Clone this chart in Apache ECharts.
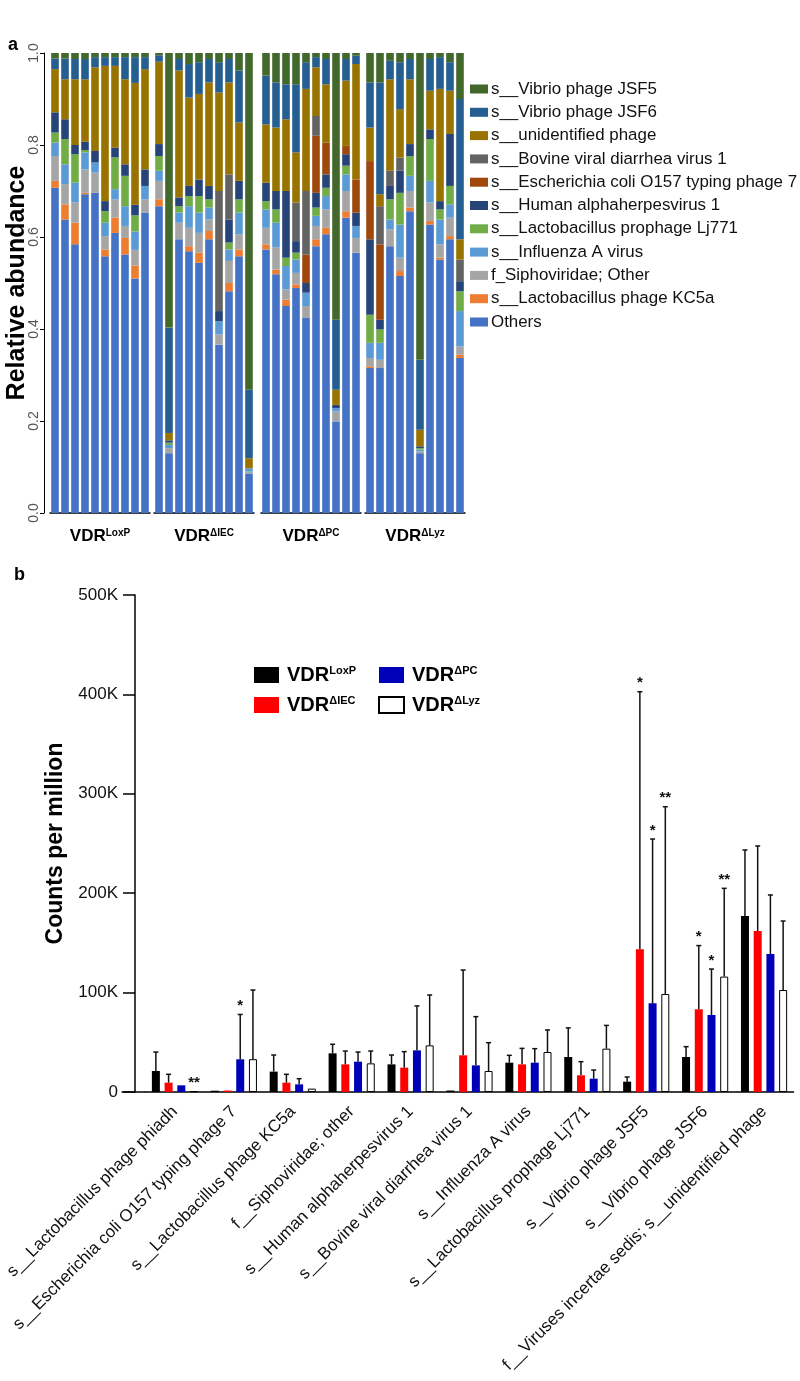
<!DOCTYPE html>
<html>
<head>
<meta charset="utf-8">
<script src="https://cdn.jsdelivr.net/npm/echarts@6/dist/echarts.min.js"></script>
<style>
html,body{margin:0;padding:0;background:#fff;}
#chart{width:800px;height:1381px;}
</style>
</head>
<body>
<div id="chart"></div>
<script>
// ---------------- Panel a data (relative abundance, %), 40 samples: 4 groups x 10 ----------------
const groups = ['LoxP', 'ΔIEC', 'ΔPC', 'ΔLyz'];
const taxaNames = [
  'Others', 's__Lactobacillus phage KC5a', 'f_Siphoviridae; Other', 's__Influenza A virus',
  's__Lactobacillus prophage Lj771', 's__Human alphaherpesvirus 1', 's__Escherichia coli O157 typing phage 7',
  's__Bovine viral diarrhea virus 1', 's__unidentified phage', 's__Vibrio phage JSF6', 's__Vibrio phage JSF5'
];
const others    = [70.7,63.8,58.4,69.3,69.6,55.8,60.9,56.2,51.0,65.3, 66.7,13.0,59.5,56.9,54.4,59.5,36.6,48.2,55.8,8.6, 57.3,51.9,45.0,48.9,42.4,58.0,60.6,19.9,64.2,56.6, 31.5,31.5,58.0,51.5,65.6,13.0,62.7,55.1,59.5,33.7];
const kc5a      = [1.5,3.3,4.7,0.3,0,1.5,3.3,3.6,2.8,0, 1.5,0,0,1.1,2.2,1.8,0,1.8,1.5,0, 1.1,1.0,1.4,0.8,0,1.5,1.4,0,1.4,0, 0.4,0,0,1.1,0.8,0,0.8,0.4,0.7,0.7];
const sipho     = [5.4,4.4,4.4,5.1,4.4,2.9,4.0,2.6,3.4,2.9, 4.0,1.1,3.6,4.0,4.3,2.5,2.2,4.8,3.3,0.4, 3.6,4.8,2.2,2.5,2.6,2.9,4.0,2.2,4.4,3.2, 1.8,1.8,3.7,2.9,3.6,0.4,4.0,2.9,4.0,1.8];
const influenza = [2.9,4.3,4.3,3.7,2.2,2.9,2.2,4.3,4.0,2.9, 2.2,0.7,2.2,4.7,4.4,2.6,2.9,2.5,4.7,0.7, 4.0,5.4,5.1,2.9,2.9,2.2,2.9,0.7,3.6,2.6, 3.3,3.7,2.1,7.2,3.3,0.4,4.7,5.4,2.9,7.7];
const lj771     = [2.2,5.5,6.2,0.5,0,2.5,6.9,6.6,3.5,0, 3.2,0.5,1.4,2.2,3.6,1.8,0,1.5,2.9,0, 1.8,2.9,1.8,1.5,0,1.8,1.8,0,1.9,0, 6.1,2.9,4.4,6.9,4.3,0.3,9.1,2.2,4.0,4.3];
const human     = [4.4,4.3,2.0,1.8,2.5,2.2,2.1,2.5,2.3,3.6, 2.6,0.5,1.9,2.2,3.6,2.9,2.2,5.0,4.0,0, 4.0,4.0,14.5,2.5,2.1,3.2,2.9,0.7,2.5,2.9, 16.4,2.1,2.9,4.8,2.6,0.4,2.1,1.8,11.3,2.2];
const ecoli     = [0,0,0,0,0,0,0,0,0,0, 0,0,0,0,0,0,0,0,0,0, 0,0,0,0,6.2,12.4,6.9,0,1.8,7.2, 17.0,16.4,0,0,0,0,0,0,0,0];
const bovine    = [0,0,0,0,0,0,0,0,0,0, 0,0,0,0,0,0,26.1,9.8,0,0, 0,0,0,8.4,13.8,4.3,0,0,0,0, 0,8.3,3.3,2.9,0,0,0,0,0,4.7];
const unidPhage = [9.4,8.7,14.3,13.6,18.2,29.4,17.8,18.5,26.5,21.8, 17.9,1.6,27.6,19.2,18.6,22.5,21.4,20.0,12.7,2.2, 12.7,13.8,15.6,10.9,22.2,10.6,12.7,3.3,14.2,25.1, 7.3,2.6,19.9,10.5,14.1,3.6,8.4,24.4,9.4,4.4];
const jsf6      = [2.3,4.5,4.4,4.4,2.2,1.9,1.9,4.8,5.6,2.6, 1.4,22.9,2.5,7.3,6.9,5.1,6.6,5.1,11.3,14.9, 10.6,9.8,7.6,14.8,5.8,2.2,5.5,15.2,4.7,1.8, 9.8,24.3,4.0,10.2,4.4,15.2,6.9,6.9,6.2,30.5];
const jsf5      = [1.2,1.2,1.3,1.3,0.9,0.9,0.9,0.9,0.9,0.9, 0.5,59.7,1.3,2.4,2.0,1.3,2.0,1.3,3.8,73.2, 4.9,6.4,6.8,6.8,2.0,0.9,1.3,58.0,1.3,0.6, 6.4,6.4,1.7,2.0,1.3,66.7,1.3,0.9,2.0,10.0];
const taxaValues = [others, kc5a, sipho, influenza, lj771, human, ecoli, bovine, unidPhage, jsf6, jsf5];

// ---------------- Panel b data (counts per million) ----------------
const phageCats = [
  's__Lactobacillus phage phiadh', 's__Escherichia coli O157 typing phage 7', 's__Lactobacillus phage KC5a',
  'f__Siphoviridae; other', 's__Human alphaherpesvirus 1', 's__Bovine viral diarrhea virus 1',
  's__Influenza A virus', 's__Lactobacillus prophage Lj771', 's__Vibrio phage JSF5',
  's__Vibrio phage JSF6', 'f__Viruses incertae sedis; s__unidentified phage'
];
const loxpMean = [21100, 1300, 20500, 38900, 27800, 1500, 29500, 35200, 10400, 35200, 177100];
const iecMean  = [9400, 1500, 9400, 27800, 24500, 36900, 27800, 16800, 143600, 83200, 162000];
const pcMean   = [6700, 32900, 7700, 30500, 41900, 26800, 29500, 13400, 89200, 77500, 138800];
const lyzMean  = [800, 33000, 3400, 28800, 46900, 21100, 40200, 43600, 98600, 116100, 102600];
const loxpSd = [19100, 0, 16700, 9100, 9400, 0, 7400, 29300, 4700, 10400, 66400];
const iecSd  = [8400, 0, 8400, 13400, 16100, 85800, 16100, 13700, 259100, 64100, 85500];
const pcSd   = [0, 45100, 5700, 9700, 44700, 49000, 14100, 8700, 165300, 46200, 59400];
const lyzSd  = [0, 69600, 0, 12400, 50700, 28500, 22200, 23400, 188400, 88800, 69400];
const loxpSig = ['','','','','','','','','','',''];
const iecSig  = ['','','','','','','','','*','*',''];
const pcSig   = ['','*','','','','','','','*','*',''];
const lyzSig  = ['**','','','','','','','','**','**',''];

// ---------------- styling ----------------
const FONT = 'Liberation Sans, Arial, Helvetica, sans-serif';
const taxaColors = ['#4472C4','#ED7D31','#A5A5A5','#5B9BD5','#70AD47','#264478','#9E480E','#636363','#997300','#255E91','#43682B'];
const gridLeftsA = [50, 154, 261, 365];
const GROUP_N = 10;
const BAR_W = 8, BAR_GAP = 0.59;

const supRich = (big, small) => ({
  b: {fontSize: big, fontWeight: 'bold', fontFamily: FONT, color: '#000'},
  s: {fontSize: small, fontWeight: 'bold', fontFamily: FONT, color: '#000', verticalAlign: 'top'}
});

const grid = [], xAxis = [], yAxis = [], series = [];

// Panel a grids
groups.forEach((g, gi) => {
  grid.push({left: gridLeftsA[gi], width: 100, top: 53, height: 460});
  xAxis.push({
    gridIndex: gi, type: 'category',
    data: Array.from({length: GROUP_N}, (_, k) => g + ' ' + (k + 1)),
    offset: 4,
    axisLine: {lineStyle: {color: '#000', width: 1.5}},
    axisTick: {show: false}, axisLabel: {show: false},
    name: '{b|VDR}{s|' + g + '}', nameLocation: 'middle', nameGap: 11,
    nameTextStyle: {rich: supRich(17, 10), verticalAlign: 'top'}
  });
  yAxis.push({
    gridIndex: gi, type: 'value', min: 0, max: 100, interval: 20,
    show: gi === 0, offset: 6,
    axisLine: {show: true, lineStyle: {color: '#000', width: 1}},
    axisTick: {show: true, length: 4, lineStyle: {color: '#000'}},
    axisLabel: {rotate: 90, margin: 3, fontSize: 14, color: '#555', fontFamily: FONT,
                formatter: v => (v / 100).toFixed(1)},
    splitLine: {show: false},
    name: 'Relative abundance', nameLocation: 'middle', nameGap: 14, nameMoveOverlap: false,
    nameTextStyle: {fontSize: 25, fontWeight: 'bold', color: '#000', fontFamily: FONT}
  });
  taxaNames.forEach((tn, ti) => {
    series.push({
      type: 'bar', name: tn, xAxisIndex: gi, yAxisIndex: gi, stack: 'grp' + gi,
      barWidth: '76%', color: taxaColors[ti],
      data: taxaValues[ti].slice(gi * GROUP_N, gi * GROUP_N + GROUP_N)
    });
  });
});

// Panel b grid
const GB = 4;
grid.push({left: 145.5, right: 6.5, top: 595, height: 497});
xAxis.push({
  gridIndex: GB, type: 'category', data: phageCats,
  axisLine: {lineStyle: {color: '#000', width: 1.5}},
  axisTick: {alignWithLabel: true, length: 14, lineStyle: {color: '#000', width: 1.5}},
  axisLabel: {rotate: 45, margin: 17, fontSize: 17, color: '#111', fontFamily: FONT, interval: 0}
});
yAxis.push({
  gridIndex: GB, type: 'value', min: 0, max: 500000, interval: 100000, offset: 10.5,
  axisLine: {show: true, lineStyle: {color: '#000', width: 1.5}},
  axisTick: {show: true, length: 12, lineStyle: {color: '#000', width: 1.5}},
  axisLabel: {margin: 17, fontSize: 17, color: '#111', fontFamily: FONT,
              formatter: v => v === 0 ? '0' : (v / 1000) + 'K'},
  splitLine: {show: false},
  name: 'Counts per million', nameLocation: 'middle', nameGap: 68, nameMoveOverlap: false,
  nameTextStyle: {fontSize: 23, fontWeight: 'bold', color: '#000', fontFamily: FONT}
});

const bSeries = [
  {name: 'LoxP', mean: loxpMean, sd: loxpSd, sig: loxpSig, color: '#000000', border: null},
  {name: 'ΔIEC', mean: iecMean, sd: iecSd, sig: iecSig, color: '#FF0000', border: null},
  {name: 'ΔPC',  mean: pcMean,  sd: pcSd,  sig: pcSig,  color: '#0000B8', border: null},
  {name: 'ΔLyz', mean: lyzMean, sd: lyzSd, sig: lyzSig, color: '#FFFFFF', border: '#000000'}
];
bSeries.forEach((s) => {
  series.push({
    type: 'bar', name: s.name, xAxisIndex: GB, yAxisIndex: GB,
    barWidth: BAR_W, barGap: (BAR_GAP * 100) + '%',
    itemStyle: s.border ? {color: s.color, borderColor: s.border, borderWidth: 1} : {color: s.color},
    data: s.mean
  });
});
bSeries.forEach((s, k) => {
  series.push({
    type: 'custom', name: s.name + ' err', xAxisIndex: GB, yAxisIndex: GB, z: 10,
    data: s.mean.map((m, i) => [i, m, s.sd[i]]),
    renderItem: (params, api) => {
      const i = api.value(0), m = api.value(1), sd = api.value(2);
      const pitch = BAR_W * (1 + BAR_GAP);
      const x = api.coord([i, 0])[0] + (k - 1.5) * pitch;
      const yb = api.coord([i, m])[1];
      const yt = api.coord([i, m + sd])[1];
      const ch = [];
      if (sd > 0) {
        ch.push({type: 'line', shape: {x1: x, y1: yb, x2: x, y2: yt}, style: {stroke: '#111', lineWidth: 1.5}});
        ch.push({type: 'line', shape: {x1: x - 2.5, y1: yt, x2: x + 2.5, y2: yt}, style: {stroke: '#111', lineWidth: 1.5}});
      }
      const sig = s.sig[params.dataIndex];
      if (sig) {
        ch.push({type: 'text', style: {text: sig, x: x, y: yt - 1, align: 'center', verticalAlign: 'bottom',
                 font: 'bold 15px ' + FONT, fill: '#111'}});
      }
      return {type: 'group', children: ch};
    }
  });
});

const legendB = (names, left) => ({
  left: left, top: 665, padding: 0, orient: 'vertical', itemGap: 10, itemWidth: 25, itemHeight: 16,
  icon: 'rect', data: names, selectedMode: false,
  formatter: n => '{b|VDR}{s|' + n + '}',
  textStyle: {rich: supRich(20, 11), padding: [0, 0, 0, 3], lineHeight: 20}
});

const option = {
  animation: false,
  backgroundColor: '#fff',
  textStyle: {fontFamily: FONT},
  grid, xAxis, yAxis, series,
  legend: [
    {
      left: 470, top: 80.5, padding: 0, orient: 'vertical', itemGap: 6.3, itemWidth: 18, itemHeight: 9,
      icon: 'rect', data: taxaNames.slice().reverse(), selectedMode: false,
      textStyle: {fontSize: 16.9, color: '#111', fontFamily: FONT, lineHeight: 17, padding: [0, 0, 0, -2]}
    },
    legendB(['LoxP', 'ΔIEC'], 254),
    legendB(['ΔPC', 'ΔLyz'], 378)
  ]
};

const chart = echarts.init(document.getElementById('chart'), null, {renderer: 'canvas'});
chart.setOption(option);

// panel letters and a short extension of the panel-b baseline past the y axis (axis decoration)
const y0 = chart.convertToPixel({yAxisIndex: GB}, 0);
const c0 = chart.convertToPixel({xAxisIndex: GB}, 0);
const c1 = chart.convertToPixel({xAxisIndex: GB}, 1);
const gridLeftB = c0 - (c1 - c0) / 2;
chart.setOption({graphic: [
  {type: 'text', left: 8, top: 36, style: {text: 'a', font: 'bold 18px ' + FONT, fill: '#000'}},
  {type: 'text', left: 14, top: 566, style: {text: 'b', font: 'bold 18px ' + FONT, fill: '#000'}},
  {type: 'line', shape: {x1: gridLeftB - 24, y1: y0, x2: gridLeftB, y2: y0}, style: {stroke: '#000', lineWidth: 1.5}}
]});
</script>
</body>
</html>
